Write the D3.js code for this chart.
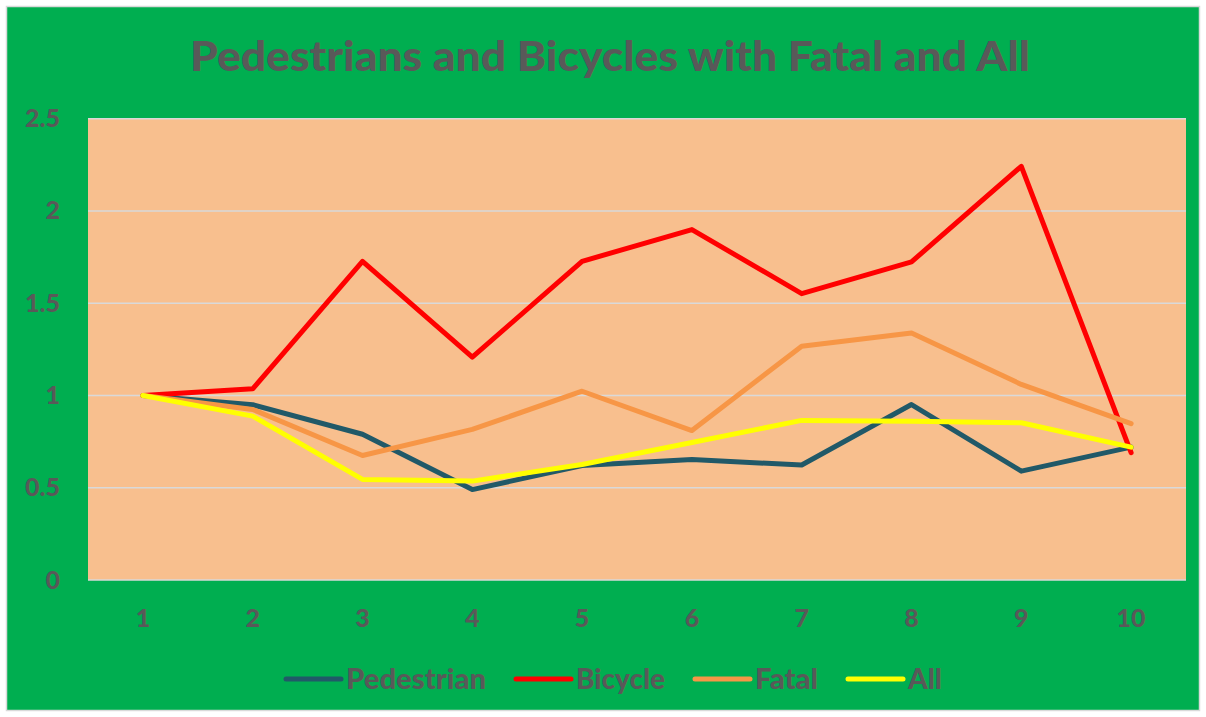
<!DOCTYPE html>
<html><head><meta charset="utf-8">
<script src="https://cdn.jsdelivr.net/npm/d3@7"></script>
<style>html,body{margin:0;padding:0;background:#fff;}</style>
</head><body>
<svg id="chart" width="1206" height="717"></svg>
<script>
const categories = ["1","2","3","4","5","6","7","8","9","10"];
const pedestrian = [1.0, 0.95, 0.79, 0.49, 0.62, 0.653, 0.623, 0.951, 0.59, 0.72];
const bicycle    = [1.0, 1.036, 1.727, 1.208, 1.727, 1.899, 1.552, 1.724, 2.242, 0.69];
const fatal      = [1.0, 0.924, 0.675, 0.816, 1.023, 0.81, 1.267, 1.339, 1.06, 0.847];
const all        = [1.0, 0.888, 0.545, 0.536, 0.626, 0.745, 0.865, 0.861, 0.852, 0.72];
const yTicks = [0, 0.5, 1, 1.5, 2, 2.5];
const title = "Pedestrians and Bicycles with Fatal and All";

const series = [
  {name:"Pedestrian", values:pedestrian, color:"#215968"},
  {name:"Bicycle", values:bicycle, color:"#FF0000"},
  {name:"Fatal", values:fatal, color:"#F79646"},
  {name:"All", values:all, color:"#FFFF00"}
];

const svg = d3.select("#chart");
const textColor = "#595959";
const font = "Lato, 'Open Sans', sans-serif";
const weight = "900";

svg.append("rect").attr("x",6.5).attr("y",6.5).attr("width",1193).attr("height",704)
  .attr("fill","#00AE50").attr("stroke","#D9D9D9").attr("stroke-width",1.5);

const plot = {left:88, right:1186, top:118.7, bottom:580};
svg.append("rect").attr("x",plot.left).attr("y",plot.top)
  .attr("width",plot.right-plot.left).attr("height",plot.bottom-plot.top).attr("fill","#F8BF8E");

const x = d3.scaleBand().domain(categories).range([plot.left, plot.right]);
const y = d3.scaleLinear().domain([0,2.5]).range([plot.bottom, plot.top]);

// gridlines
svg.append("g").selectAll("line").data(yTicks).join("line")
  .attr("x1",plot.left).attr("x2",plot.right)
  .attr("y1",d=>y(d)).attr("y2",d=>y(d))
  .attr("stroke","#D9D9D9").attr("stroke-width",1.5);

// y axis
const yAxis = d3.axisLeft(y).tickValues(yTicks).tickFormat(d=>String(d)).tickSize(0).tickPadding(0);
const gy = svg.append("g").attr("transform","translate(60,0)").call(yAxis);
gy.select(".domain").remove();
gy.selectAll("text").attr("fill",textColor).style("font-family",font)
  .style("font-size","25px").style("font-weight",weight);

// x axis
const xAxis = d3.axisBottom(x).tickSize(0).tickPadding(0);
const gx = svg.append("g").attr("transform","translate(0,609)").call(xAxis);
gx.select(".domain").remove();
gx.selectAll("text").attr("fill",textColor).style("font-family",font)
  .style("font-size","25px").style("font-weight",weight);

// lines
const line = d3.line().x((d,i)=>x(categories[i])+x.bandwidth()/2).y(d=>y(d));
svg.append("g").selectAll("path").data(series).join("path")
  .attr("d",d=>line(d.values)).attr("fill","none")
  .attr("stroke",d=>d.color).attr("stroke-width",5)
  .attr("stroke-linejoin","round").attr("stroke-linecap","round");

// title
svg.append("text").attr("x",610).attr("y",71).attr("text-anchor","middle")
  .attr("fill",textColor).style("font-family",font).style("font-size","41px")
  .style("font-weight",weight).attr("textLength",840).attr("lengthAdjust","spacingAndGlyphs")
  .text(title);

// legend
const legendX = [286, 516, 695, 848];
const legendW = [140, 89, 63, 34];
const lg = svg.append("g").selectAll("g").data(series).join("g")
  .attr("transform",(d,i)=>`translate(${legendX[i]},679)`);
lg.append("line").attr("x1",0).attr("x2",55).attr("y1",0).attr("y2",0)
  .attr("stroke",d=>d.color).attr("stroke-width",5).attr("stroke-linecap","round");
lg.append("text").attr("x",60).attr("y",10).attr("fill",textColor)
  .style("font-family",font).style("font-size","28px").style("font-weight",weight)
  .attr("textLength",(d,i)=>legendW[i]).attr("lengthAdjust","spacingAndGlyphs")
  .text(d=>d.name);
</script>
</body></html>
